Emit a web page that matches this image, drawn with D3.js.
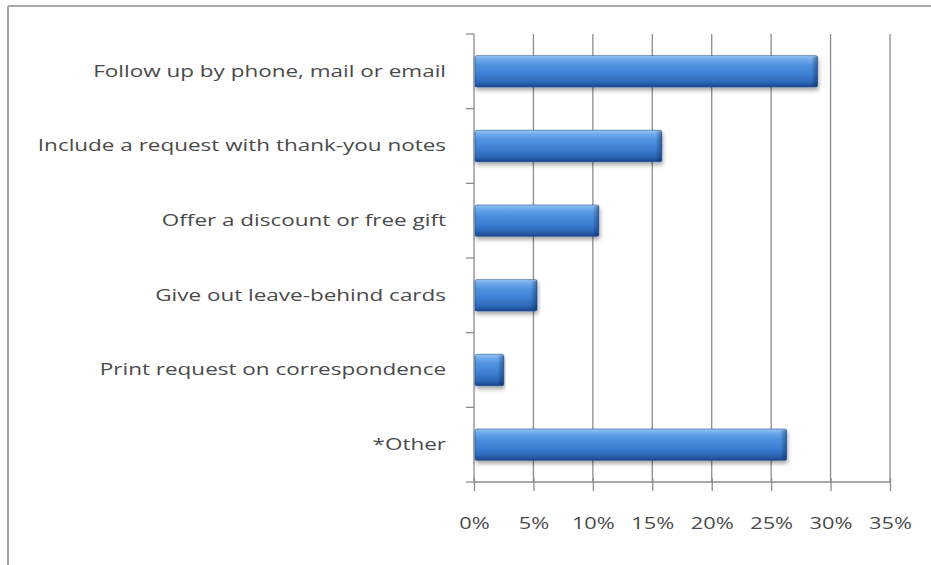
<!DOCTYPE html>
<html>
<head>
<meta charset="utf-8">
<script src="https://cdn.jsdelivr.net/npm/d3@7"></script>
<style>
  html, body { margin: 0; padding: 0; background: #fff; }
  svg { display: block; }
</style>
</head>
<body>
<svg id="chart" width="931" height="565"></svg>
<script>
const categories = [
  "Follow up by phone, mail or email",
  "Include a request with thank-you notes",
  "Offer a discount or free gift",
  "Give out leave-behind cards",
  "Print request on correspondence",
  "*Other"
];
const values = [28.9, 15.8, 10.5, 5.3, 2.5, 26.3];
const tickValues = [0, 5, 10, 15, 20, 25, 30, 35];
const tickLabels = ["0%", "5%", "10%", "15%", "20%", "25%", "30%", "35%"];

(function () {
const svg = d3.select("#chart");
const defs = svg.append("defs");

const grad = defs.append("linearGradient")
  .attr("id", "barGrad").attr("x1", 0).attr("y1", 0).attr("x2", 0).attr("y2", 1);
[
  [0, "#a4ccf6"], [0.1, "#72acec"], [0.3, "#4f92e0"], [0.6, "#3d7fd3"],
  [0.85, "#2c66b6"], [1, "#1a4488"]
].forEach(([o, c]) => grad.append("stop").attr("offset", o).attr("stop-color", c));

const endGrad = defs.append("linearGradient")
  .attr("id", "endGrad").attr("x1", 0).attr("y1", 0).attr("x2", 1).attr("y2", 0);
endGrad.append("stop").attr("offset", 0).attr("stop-color", "#000").attr("stop-opacity", 0);
endGrad.append("stop").attr("offset", 1).attr("stop-color", "#0a2a60").attr("stop-opacity", 0.45);

const shadow = defs.append("filter").attr("id", "shadow")
  .attr("x", "-5%").attr("y", "-30%").attr("width", "110%").attr("height", "180%");
shadow.append("feGaussianBlur").attr("in", "SourceAlpha").attr("stdDeviation", 2.2);
shadow.append("feOffset").attr("dx", 1).attr("dy", 2.5).attr("result", "off");
shadow.append("feComponentTransfer").append("feFuncA").attr("type", "linear").attr("slope", 0.35);
const merge = shadow.append("feMerge");
merge.append("feMergeNode");
merge.append("feMergeNode").attr("in", "SourceGraphic");

// Outer frame
svg.append("line").attr("x1", 8).attr("x2", 931).attr("y1", 6).attr("y2", 6)
  .attr("stroke", "#a8a8a8").attr("stroke-width", 2);
svg.append("line").attr("x1", 8).attr("x2", 8).attr("y1", 6).attr("y2", 565)
  .attr("stroke", "#a8a8a8").attr("stroke-width", 2);

const pLeft = 474, pRight = 890, pTop = 34, pBottom = 482;

const x = d3.scaleLinear().domain([0, 35]).range([pLeft, pRight]);
const y = d3.scaleBand().domain(categories).range([pTop, pBottom]).paddingInner(0.58).paddingOuter(0.29);
const yOuter = d3.scaleBand().domain(categories).range([pTop, pBottom]);

const font = "'Open Sans', Lato, sans-serif";

// Gridlines
svg.append("g").selectAll("line").data(tickValues.slice(1)).join("line")
  .attr("x1", d => x(d)).attr("x2", d => x(d))
  .attr("y1", pTop).attr("y2", pBottom)
  .attr("stroke", "#8c8c8c").attr("stroke-width", 1.3);

// X axis
const xAxis = d3.axisBottom(x).tickValues(tickValues)
  .tickFormat((d, i) => tickLabels[i]).tickSize(9).tickPadding(26);
const gx = svg.append("g").attr("transform", `translate(0,${pBottom})`).call(xAxis);
gx.select(".domain").attr("stroke", "#8c8c8c").attr("stroke-width", 1.3)
  .attr("d", `M${pLeft},0H${pRight}`);
gx.selectAll(".tick line").attr("stroke", "#8c8c8c").attr("stroke-width", 1.3).attr("y1", -4);
const xt = gx.selectAll(".tick text").attr("font-family", font).attr("font-size", 17)
  .attr("fill", "#4a4a4a");
// horizontal stretch to match the reference's wide rendering
const xLast = xt.nodes()[xt.size() - 1];
const xs = 43 / xLast.getComputedTextLength();
xt.each(function () {
  const t = d3.select(this);
  const yy = +t.attr("y");
  t.attr("transform", `translate(0,${yy}) scale(${xs},1) translate(0,${-yy})`);
});

// Y axis
const yAxis = d3.axisLeft(yOuter).tickSize(0).tickPadding(28);
const gy = svg.append("g").attr("transform", `translate(${pLeft},0)`).call(yAxis);
gy.select(".domain").attr("stroke", "#8c8c8c").attr("stroke-width", 1.3)
  .attr("d", `M0,${pTop}V${pBottom}`);
const yt = gy.selectAll(".tick text").attr("font-family", font).attr("font-size", 17)
  .attr("fill", "#4a4a4a");
const ys = 353 / yt.nodes()[0].getComputedTextLength();
yt.each(function () {
  const t = d3.select(this);
  const xx = +t.attr("x");
  t.attr("transform", `translate(${xx},0) scale(${ys},1) translate(${-xx},0)`);
});
// category separator ticks
svg.append("g").selectAll("line")
  .data(d3.range(categories.length + 1).map(i => pTop + i * yOuter.step()))
  .join("line")
  .attr("x1", pLeft - 8).attr("x2", pLeft)
  .attr("y1", d => d).attr("y2", d => d)
  .attr("stroke", "#8c8c8c").attr("stroke-width", 1.3);

// Bars
const bars = svg.append("g").selectAll("g").data(categories).join("g")
  .attr("filter", "url(#shadow)");
bars.append("rect")
  .attr("x", x(0) + 1)
  .attr("y", d => y(d))
  .attr("width", (d, i) => x(values[i]) - x(0) - 1)
  .attr("height", y.bandwidth())
  .attr("rx", 1.5)
  .attr("fill", "url(#barGrad)")
  .attr("stroke", "#1f4f94").attr("stroke-width", 0.6);
bars.append("rect")
  .attr("x", (d, i) => x(values[i]) - 6)
  .attr("y", d => y(d) + 1)
  .attr("width", 6)
  .attr("height", y.bandwidth() - 2)
  .attr("fill", "url(#endGrad)");
})();
</script>
</body>
</html>
